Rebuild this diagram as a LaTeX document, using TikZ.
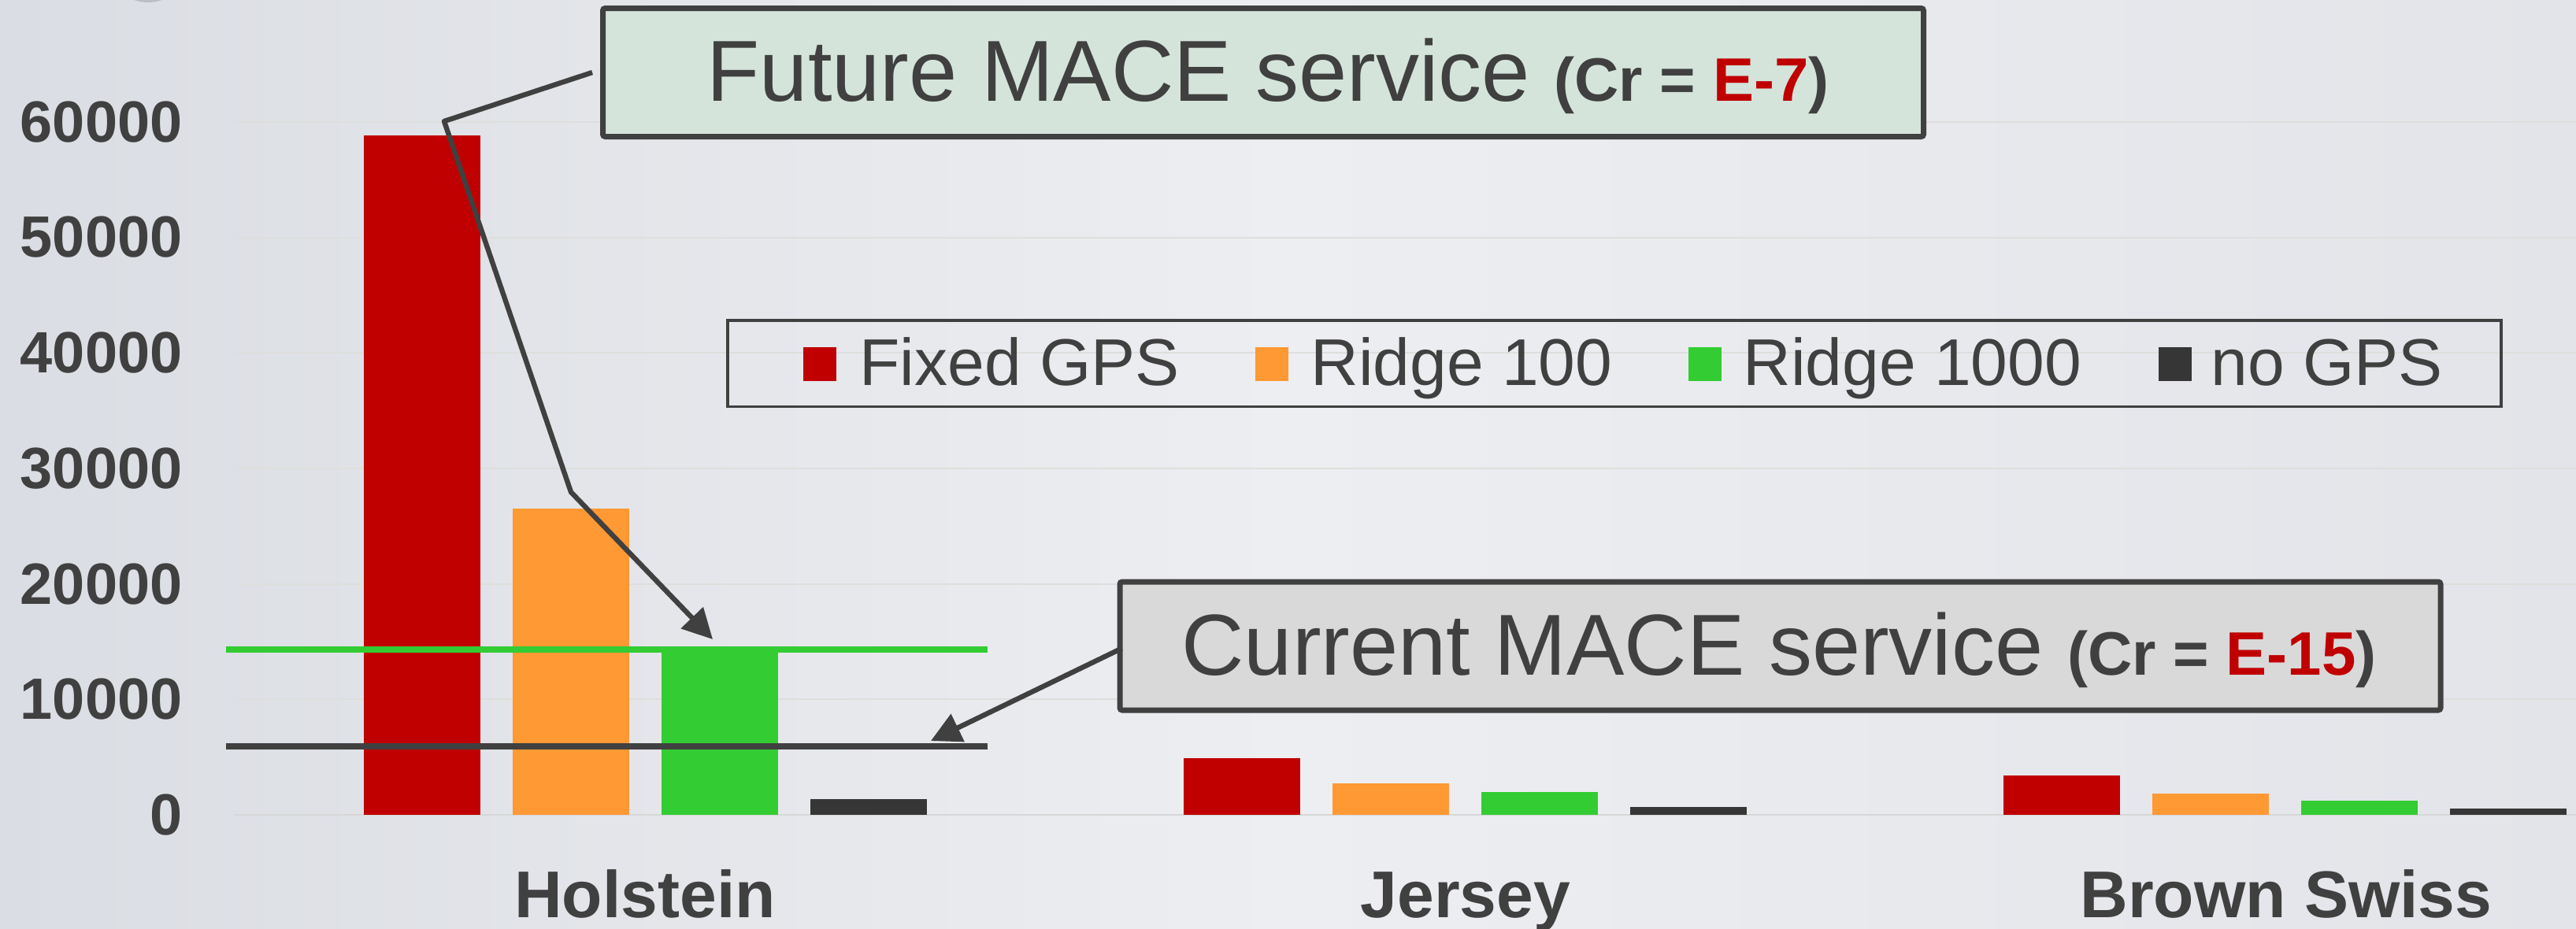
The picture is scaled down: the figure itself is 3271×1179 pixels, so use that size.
\documentclass[tikz,border=0pt]{standalone}
\usepackage{fontspec}
\setmainfont{Liberation Sans}
\usetikzlibrary{arrows.meta}
\definecolor{txt}{HTML}{404040}
\definecolor{cred}{HTML}{C00000}
\definecolor{corange}{HTML}{FF9933}
\definecolor{cgreen}{HTML}{33CC33}
\definecolor{cblack}{HTML}{363636}
\definecolor{bgL}{RGB}{218,221,227}
\definecolor{bgM}{RGB}{237,238,241}
\definecolor{bgR}{RGB}{226,228,233}
\definecolor{gridc}{RGB}{222,222,220}
\definecolor{basec}{RGB}{215,215,215}
\definecolor{fboxfill}{RGB}{212,228,218}
\definecolor{cboxfill}{RGB}{217,217,217}
\definecolor{logoc}{RGB}{165,168,175}
\begin{document}
\begin{tikzpicture}[x=0.5pt,y=-0.5pt,
  ylab/.style={anchor=east,inner sep=0,text=txt,font=\bfseries\fontsize{37}{40}\selectfont},
  cat/.style={anchor=base,inner sep=0,text=txt,font=\bfseries\fontsize{42}{46}\selectfont},
  legtxt/.style={anchor=base west,inner sep=0,text=txt,font=\fontsize{42}{46}\selectfont},
  callout/.style={draw=txt,line width=3.5pt,rounded corners=1.5pt,inner sep=0,minimum width=838.5pt,minimum height=81.5pt},
  boxtxt/.style={anchor=base,inner sep=0,text=txt},
  conn/.style={draw=txt,line width=3.2pt,line join=round,-{Triangle[length=19pt,width=19pt]}},
  gridline/.style={draw=gridc,line width=1pt},
  refline/.style={line width=4pt},
]
\useasboundingbox (0,0) rectangle (3271,1179);
% background
\shade[left color=bgL, right color=bgR, middle color=bgM] (0,0) rectangle (3271,1179);
\begin{scope}
\clip (0,0) rectangle (3271,1179);
\fill[logoc,opacity=0.6] (188,-40) ellipse (48 and 43);
\end{scope}
% gridlines and y labels
\foreach \k/\lab in {1/10000,2/20000,3/30000,4/40000,5/50000,6/60000}{
  \draw[gridline] (298,1035-146.7*\k) -- (3271,1035-146.7*\k);
  \node[ylab] (y\k) at (232,1035-146.7*\k) {\lab};
}
\draw[draw=basec,line width=1.25pt] (298,1035) -- (3271,1035);
\node[ylab] (y0) at (232,1035) {0};
% bars
\foreach \g/\r/\o/\gr/\b in {462/172/646/828/1015, 1503/963/995/1006/1025, 2544/985/1008/1017/1027}{
  \fill[cred]    (\g,\r) rectangle ++(148,1035-\r);
  \fill[corange] (\g+189,\o) rectangle ++(148,1035-\o);
  \fill[cgreen]  (\g+378,\gr) rectangle ++(148,1035-\gr);
  \fill[cblack]  (\g+567,\b) rectangle ++(148,1035-\b);
}
% category labels
\node[cat] (holstein) at (819,1165) {Holstein};
\node[cat] (jersey) at (1861,1165) {Jersey};
\node[cat] (brown) at (2903,1165) {Brown Swiss};
% reference lines
\draw[refline,draw=cgreen] (287,824.5) -- (1254,824.5);
\draw[refline,draw=txt] (287,948) -- (1254,948);
% legend
\node[draw=txt,line width=1.75pt,inner sep=0,minimum width=1126pt,minimum height=54.75pt] (legend) at (2050,461.5) {};
\foreach \x/\c/\t/\tx in {1020/cred/Fixed GPS/1091, 1594/corange/Ridge 100/1664, 2144/cgreen/Ridge 1000/2213, 2741/cblack/no GPS/2807}{
  \fill[\c] (\x,441) rectangle ++(42,43);
  \node[legtxt] at (\tx,489) {\t};
}
% callout boxes
\node[callout,fill=fboxfill] (fbox) at (1604,92) {};
\node[boxtxt] (ftext) at (1610,128) {\fontsize{55}{60}\selectfont Future MACE service \bfseries\fontsize{39}{42}\selectfont(Cr = \textcolor{cred}{E-7})};
\node[callout,fill=cboxfill] (cbox) at (2260.5,820.5) {};
\node[boxtxt] (ctext) at (2259,857) {\fontsize{55}{60}\selectfont Current MACE service \bfseries\fontsize{39}{42}\selectfont(Cr = \textcolor{cred}{E-15})};
% connectors
\coordinate (e1) at (564,154);
\coordinate (e2) at (725,625);
\coordinate (t1) at (905,812);
\coordinate (t2) at (1182,941);
\draw[conn] ([xshift=-5pt]fbox.west) -- (e1) -- (e2) -- (t1);
\draw[conn] ([xshift=3pt,yshift=-1.5pt]cbox.west) -- (t2);
\end{tikzpicture}
\end{document}
